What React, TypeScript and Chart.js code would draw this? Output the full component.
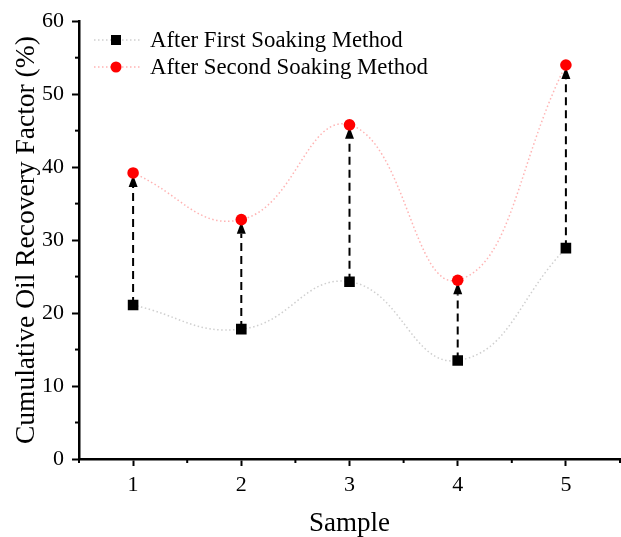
import React, { useEffect, useRef } from "react";
import { Chart, registerables } from "chart.js";

Chart.register(...registerables);

const samples = [1, 2, 3, 4, 5];
const firstSoak = [21.1, 17.8, 24.3, 13.5, 28.9];
const secondSoak = [39.2, 32.8, 45.8, 24.5, 54.0];
const yMajorTicks = [0, 10, 20, 30, 40, 50, 60];
const yMinorTicks = [5, 15, 25, 35, 45, 55];
const xMinorTicks = [0.5, 1.5, 2.5, 3.5, 4.5, 5.5];
const seriesLabels = ["After First Soaking Method", "After Second Soaking Method"];
const yTitle = "Cumulative Oil Recovery Factor (%)";
const xTitle = "Sample";

const FONT = "'Liberation Serif', 'Times New Roman', serif";

const arrowPlugin = {
  id: "arrows",
  beforeDatasetsDraw(chart: any) {
    const { ctx, scales } = chart;
    const xs = scales.x, ys = scales.y;
    ctx.save();
    ctx.strokeStyle = "#000";
    ctx.fillStyle = "#000";
    ctx.lineWidth = 2;
    for (let i = 0; i < samples.length; i++) {
      const x = xs.getPixelForValue(samples[i]);
      const y0 = ys.getPixelForValue(firstSoak[i]);
      const y1 = ys.getPixelForValue(secondSoak[i]);
      const tip = y1 + 2;
      const base = tip + 12;
      ctx.setLineDash([8, 5]);
      ctx.beginPath();
      ctx.moveTo(x, y0);
      ctx.lineTo(x, base);
      ctx.stroke();
      ctx.setLineDash([]);
      ctx.beginPath();
      ctx.moveTo(x, tip);
      ctx.lineTo(x - 4.5, base);
      ctx.lineTo(x + 4.5, base);
      ctx.closePath();
      ctx.fill();
    }
    ctx.restore();
  },
};

const decorPlugin = {
  id: "decor",
  afterDraw(chart: any) {
    const { ctx, chartArea, scales } = chart;
    ctx.save();
    ctx.strokeStyle = "#000";
    ctx.lineWidth = 2;
    for (const v of yMinorTicks) {
      const y = scales.y.getPixelForValue(v);
      ctx.beginPath();
      ctx.moveTo(chartArea.left - 4, y);
      ctx.lineTo(chartArea.left, y);
      ctx.stroke();
    }
    for (const v of xMinorTicks) {
      const x = scales.x.getPixelForValue(v);
      ctx.beginPath();
      ctx.moveTo(x, chartArea.bottom);
      ctx.lineTo(x, chartArea.bottom + 4);
      ctx.stroke();
    }
    const rows = [
      { y: 40, line: "#cfcfcf", kind: "rect" },
      { y: 67, line: "#ffb3b3", kind: "circle" },
    ];
    const sx = 116;
    rows.forEach((r, i) => {
      ctx.strokeStyle = r.line;
      ctx.lineWidth = 1.5;
      ctx.setLineDash([1.5, 2.5]);
      ctx.beginPath();
      ctx.moveTo(94, r.y);
      ctx.lineTo(140, r.y);
      ctx.stroke();
      ctx.setLineDash([]);
      if (r.kind === "rect") {
        ctx.fillStyle = "#000";
        ctx.fillRect(sx - 5, r.y - 5, 10, 10);
      } else {
        ctx.fillStyle = "#ff0000";
        ctx.beginPath();
        ctx.arc(sx, r.y, 5.5, 0, Math.PI * 2);
        ctx.fill();
      }
      ctx.fillStyle = "#000";
      ctx.font = `22.8px ${FONT}`;
      ctx.textAlign = "left";
      ctx.textBaseline = "middle";
      ctx.fillText(seriesLabels[i], 150, r.y + 1);
    });
    ctx.restore();
  },
};

export default function App() {
  const ref = useRef<HTMLCanvasElement | null>(null);
  useEffect(() => {
    document.body.style.margin = "0";
    const canvas = ref.current!;
    const chart = new Chart(canvas, {
      type: "line",
      data: {
        datasets: [
          {
            label: seriesLabels[0],
            data: samples.map((s, i) => ({ x: s, y: firstSoak[i] })),
            borderColor: "#cfcfcf",
            borderWidth: 1.5,
            borderDash: [1.5, 2.5],
            tension: 0.45,
            pointStyle: "rect",
            pointRadius: 7.5,
            pointBackgroundColor: "#000",
            pointBorderWidth: 0,
            fill: false,
          },
          {
            label: seriesLabels[1],
            data: samples.map((s, i) => ({ x: s, y: secondSoak[i] })),
            borderColor: "#ffb3b3",
            borderWidth: 1.5,
            borderDash: [1.5, 2.5],
            tension: 0.45,
            pointStyle: "circle",
            pointRadius: 5.8,
            pointBackgroundColor: "#ff0000",
            pointBorderWidth: 0,
            fill: false,
          },
        ],
      },
      options: {
        responsive: false,
        animation: false,
        devicePixelRatio: 1,
        layout: { autoPadding: false, padding: { top: 21, right: 1, left: 0, bottom: 0 } },
        plugins: { legend: { display: false }, tooltip: { enabled: false } },
        scales: {
          x: {
            type: "linear",
            min: 0.5,
            max: 5.5,
            afterBuildTicks: (s: any) => {
              s.ticks = samples.map((v) => ({ value: v }));
            },
            afterFit: (s: any) => {
              s.height = 78;
            },
            grid: {
              drawOnChartArea: false,
              drawTicks: true,
              tickLength: 7,
              tickColor: "#000",
              tickWidth: 2,
            },
            border: { display: true, color: "#000", width: 2.5 },
            ticks: {
              color: "#000",
              padding: 6,
              font: { family: FONT, size: 22 },
              callback: (v: any) => String(v),
            },
            title: {
              display: true,
              text: xTitle,
              color: "#000",
              font: { family: FONT, size: 27, lineHeight: 1.0 },
              padding: { top: 0, bottom: 0 },
            },
          },
          y: {
            type: "linear",
            min: 0,
            max: 60,
            afterBuildTicks: (s: any) => {
              s.ticks = yMajorTicks.map((v) => ({ value: v }));
            },
            afterFit: (s: any) => {
              s.width = 79;
            },
            grid: {
              drawOnChartArea: false,
              drawTicks: true,
              tickLength: 7,
              tickColor: "#000",
              tickWidth: 2,
            },
            border: { display: true, color: "#000", width: 2.5 },
            ticks: {
              color: "#000",
              padding: 8,
              font: { family: FONT, size: 22 },
              callback: (v: any) => String(v),
            },
            title: {
              display: true,
              text: yTitle,
              color: "#000",
              font: { family: FONT, size: 27.5, lineHeight: 1.0 },
              padding: { top: 13, bottom: 0 },
            },
          },
        },
      },
      plugins: [arrowPlugin, decorPlugin],
    });
    return () => chart.destroy();
  }, []);
  return <canvas ref={ref} width={621} height={537} style={{ display: "block" }} />;
}
